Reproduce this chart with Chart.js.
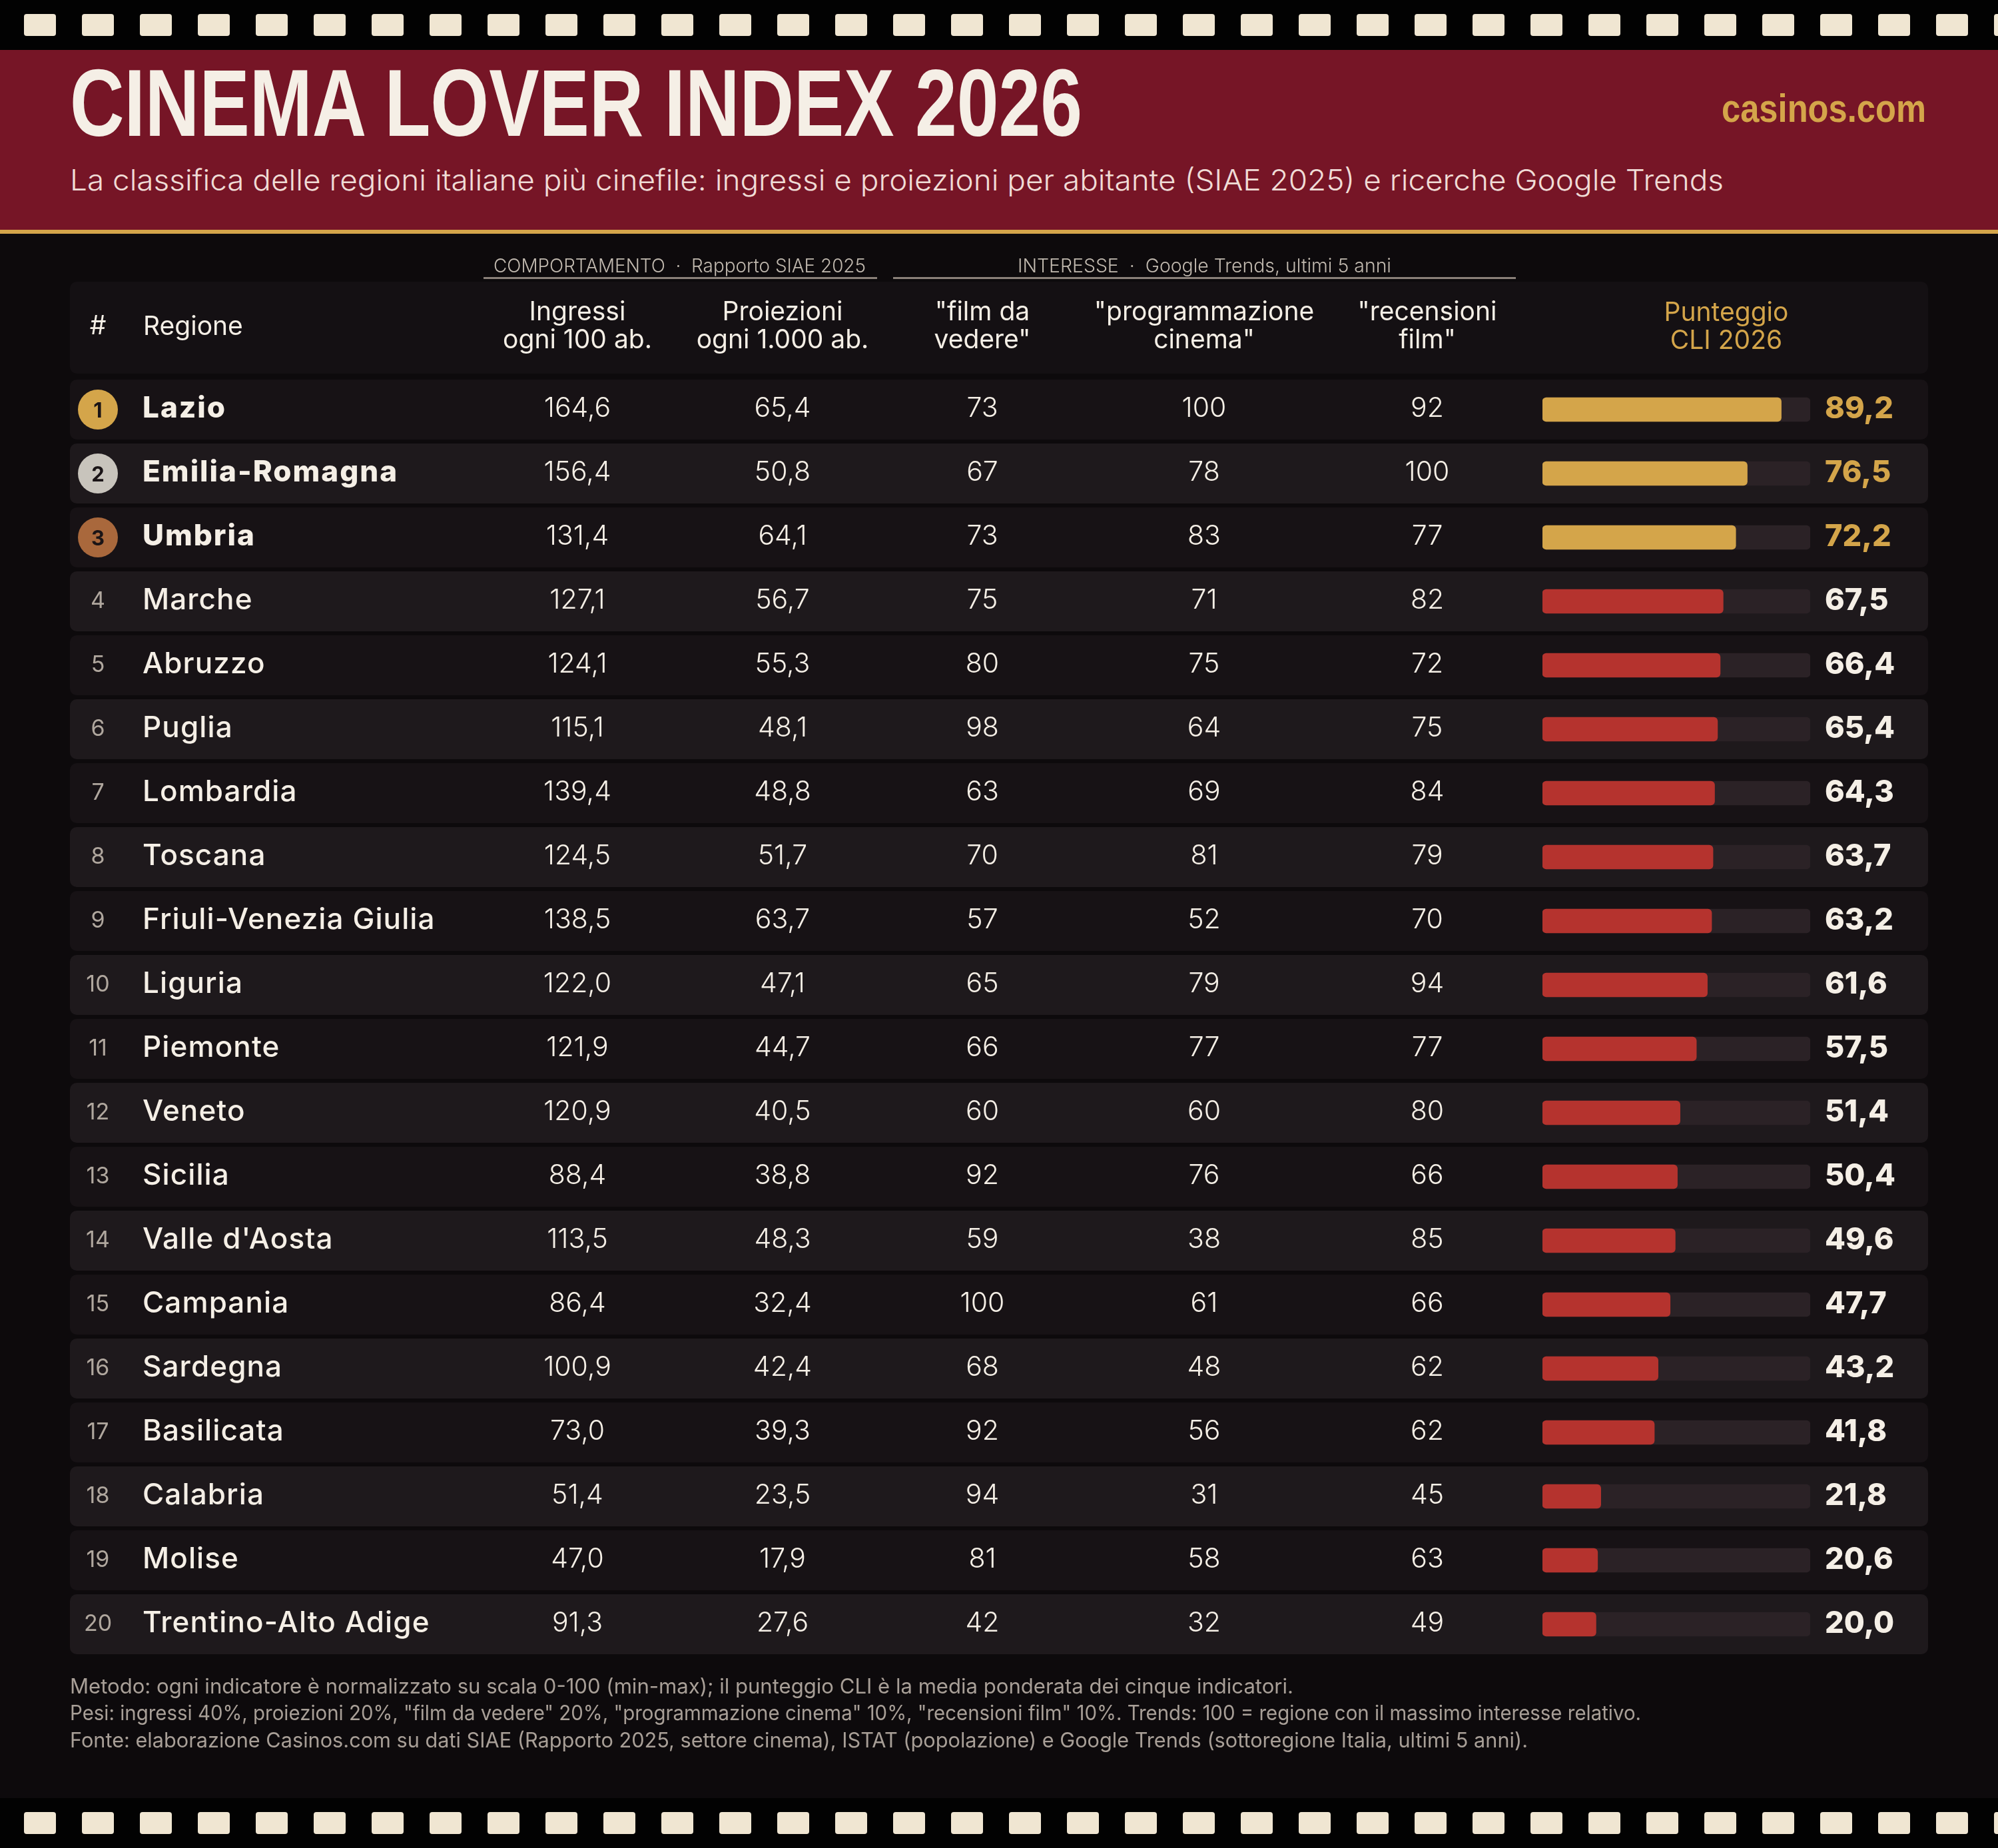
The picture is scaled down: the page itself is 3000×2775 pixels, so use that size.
<!DOCTYPE html>
<html lang="it">
<head>
  <meta charset="UTF-8" />
  <title>Cinema Lover Index 2026</title>
  <script src="https://cdn.jsdelivr.net/npm/chart.js"></script>
  <style>
    html, body { margin: 0; padding: 0; background: #0d0a0c; }
    #page { position: relative; width: 3000px; height: 2775px; overflow: hidden; background: #0d0a0c; font-family: 'Inter', 'Open Sans', sans-serif; color: #f5efe6; }
    #chart { position: absolute; left: 0; top: 0; }
    .strip { position: absolute; left: 0; width: 3000px; height: 75px; background: #020202; }
    .hole { position: absolute; width: 48px; height: 33px; background: #f0e6d2; border-radius: 4px; }
    .band { position: absolute; left: 0; top: 75px; width: 3000px; height: 270px; background: #761526; border-bottom: 6px solid #d4a54a; }
    .t { position: absolute; white-space: pre; line-height: 1; }
    .title { font-family: 'Liberation Sans Narrow', 'Liberation Sans', sans-serif; font-weight: 700; font-size: 142px; color: #f5efe6; }
    .brand { font-family: 'Liberation Sans Narrow', 'Liberation Sans', sans-serif; font-weight: 700; font-size: 60px; color: #d4a54a; }
    .sub { font-weight: 300; font-size: 44px; color: #f0dcd6; }
    .group { font-weight: 300; font-size: 29px; color: #c2bab0; }
    .rule { position: absolute; height: 3px; top: 416px; background: #8a8079; }
    .head { font-weight: 400; font-size: 39px; color: #f5efe6; }
    .rank { font-weight: 400; font-size: 34px; color: #b0a79e; }
    .medal { font-weight: 700; font-size: 31px; color: #1a1416; }
    .name { font-weight: 500; font-size: 44px; letter-spacing: 1.1px; color: #f5efe6; }
    .name.top { font-weight: 800; letter-spacing: 2px; }
    .val { font-weight: 300; font-size: 41px; color: #f5efe6; }
    .score { font-weight: 800; font-size: 45px; color: #f5efe6; }
    .foot { font-weight: 400; font-size: 31px; color: #a89f97; }
    .t.gold { color: #d4a54a; }
  </style>
</head>
<body>
  <div id="page">
    <canvas id="chart" width="3000" height="2775"></canvas>
    <div class="strip" style="top:0"></div>
    <div class="strip" style="top:2700px"></div>
    <div class="band"></div>
    <div class="rule" style="left:726px;width:591px"></div>
    <div class="rule" style="left:1341px;width:935px"></div>
  </div>

  <script>
    const regions = ['Lazio', 'Emilia-Romagna', 'Umbria', 'Marche', 'Abruzzo', 'Puglia', 'Lombardia', 'Toscana', 'Friuli-Venezia Giulia', 'Liguria', 'Piemonte', 'Veneto', 'Sicilia', "Valle d'Aosta", 'Campania', 'Sardegna', 'Basilicata', 'Calabria', 'Molise', 'Trentino-Alto Adige'];
    const ingressi = [164.6, 156.4, 131.4, 127.1, 124.1, 115.1, 139.4, 124.5, 138.5, 122.0, 121.9, 120.9, 88.4, 113.5, 86.4, 100.9, 73.0, 51.4, 47.0, 91.3];
    const proiezioni = [65.4, 50.8, 64.1, 56.7, 55.3, 48.1, 48.8, 51.7, 63.7, 47.1, 44.7, 40.5, 38.8, 48.3, 32.4, 42.4, 39.3, 23.5, 17.9, 27.6];
    const filmDaVedere = [73, 67, 73, 75, 80, 98, 63, 70, 57, 65, 66, 60, 92, 59, 100, 68, 92, 94, 81, 42];
    const programmazione = [100, 78, 83, 71, 75, 64, 69, 81, 52, 79, 77, 60, 76, 38, 61, 48, 56, 31, 58, 32];
    const recensioni = [92, 100, 77, 82, 72, 75, 84, 79, 70, 94, 77, 80, 66, 85, 66, 62, 62, 45, 63, 49];
    const punteggio = [89.2, 76.5, 72.2, 67.5, 66.4, 65.4, 64.3, 63.7, 63.2, 61.6, 57.5, 51.4, 50.4, 49.6, 47.7, 43.2, 41.8, 21.8, 20.6, 20.0];
    const scaleMax = [100];
    const footNotes = [
      'Metodo: ogni indicatore è normalizzato su scala 0-100 (min-max); il punteggio CLI è la media ponderata dei cinque indicatori.',
      'Pesi: ingressi 40%, proiezioni 20%, "film da vedere" 20%, "programmazione cinema" 10%, "recensioni film" 10%. Trends: 100 = regione con il massimo interesse relativo.',
      'Fonte: elaborazione Casinos.com su dati SIAE (Rapporto 2025, settore cinema), ISTAT (popolazione) e Google Trends (sottoregione Italia, ultimi 5 anni).'
    ];

    const GOLD = '#d4a54a', RED = '#b5332e', TRACK = '#2b2226';
    const medals = ['#d4a54a', '#c8c4bc', '#a9683c'];
    const page = document.getElementById('page');

    // absolutely placed text; align: l, c, r. width squeezes the text to a measured width
    function put(text, x, y, cls, align, width) {
      const el = document.createElement('div');
      el.className = 't ' + cls;
      el.textContent = text;
      page.appendChild(el);
      const w = el.getBoundingClientRect().width;
      const sx = width ? width / w : 1;
      const drawn = w * sx;
      const left = align === 'c' ? x - drawn / 2 : align === 'r' ? x - drawn : x;
      el.style.left = left + 'px';
      el.style.top = y + 'px';
      el.style.transformOrigin = '0 50%';
      el.style.transform = 'translateY(-50%) scaleX(' + sx + ')';
      return el;
    }

    // rows and header cell behind the bars
    const rowBands = {
      id: 'rowBands',
      beforeDatasetsDraw(chart) {
        const { ctx, scales: { y } } = chart;
        ctx.save();
        ctx.fillStyle = '#141013';
        ctx.beginPath(); ctx.roundRect(105, 423, 2790, 138, 10); ctx.fill();
        regions.forEach((r, i) => {
          const c = y.getPixelForValue(i);
          ctx.fillStyle = i % 2 ? '#1e191c' : '#171215';
          ctx.beginPath(); ctx.roundRect(105, c - 45, 2790, 90, 10); ctx.fill();
          if (i < 3) {
            ctx.fillStyle = medals[i];
            ctx.beginPath(); ctx.arc(147, c, 30, 0, Math.PI * 2); ctx.fill();
          }
        });
        ctx.restore();
      }
    };

    const chart = new Chart(document.getElementById('chart'), {
      type: 'bar',
      data: {
        labels: regions,
        datasets: [
          { label: 'Punteggio CLI 2026', data: punteggio, backgroundColor: punteggio.map((v, i) => i < 3 ? GOLD : RED), order: 1 },
          { label: 'Scala', data: regions.map(() => scaleMax[0]), backgroundColor: TRACK, order: 2 }
        ]
      },
      options: {
        indexAxis: 'y',
        responsive: false,
        animation: false,
        devicePixelRatio: 1,
        layout: { padding: { left: 2316, right: 282, top: 567, bottom: 288 } },
        datasets: { bar: { grouped: false, barThickness: 36, borderRadius: 6, borderSkipped: false } },
        scales: {
          x: { display: false, min: 0, max: scaleMax[0] },
          y: { display: false }
        },
        plugins: { legend: { display: false }, tooltip: { enabled: false } }
      },
      plugins: [rowBands]
    });

    const comma = v => v.toFixed(1).replace('.', ',');

    // header
    put('CINEMA LOVER INDEX 2026', 105, 155, 'title', 'l', 1520);
    put('casinos.com', 2892, 163, 'brand', 'r', 307);
    put('La classifica delle regioni italiane più cinefile: ingressi e proiezioni per abitante (SIAE 2025) e ricerche Google Trends', 105, 270, 'sub', 'l', 2483);

    // column headings
    put('COMPORTAMENTO  ·  Rapporto SIAE 2025', 1020, 398, 'group', 'c', 559);
    put('INTERESSE  ·  Google Trends, ultimi 5 anni', 1808, 398, 'group', 'c', 561);
    put('#', 147, 487, 'head', 'c');
    put('Regione', 215, 488, 'head', 'l');
    const headers = [[867, 'Ingressi', 'ogni 100 ab.'], [1175, 'Proiezioni', 'ogni 1.000 ab.'], [1475, '"film da', 'vedere"'], [1808, '"programmazione', 'cinema"'], [2143, '"recensioni', 'film"']];
    headers.forEach(h => {
      put(h[1], h[0], 466, 'head', 'c');
      put(h[2], h[0], 508, 'head', 'c');
    });
    put('Punteggio', 2592, 467, 'head gold', 'c');
    put('CLI 2026', 2592, 509, 'head gold', 'c');

    // table cells follow the chart's category scale
    regions.forEach((r, i) => {
      const c = chart.scales.y.getPixelForValue(i) - 4;
      put(String(i + 1), 147, i < 3 ? c + 4 : c + 2, i < 3 ? 'medal' : 'rank', 'c');
      put(r, 214, c, 'name' + (i < 3 ? ' top' : ''), 'l');
      put(comma(ingressi[i]), 867, c, 'val', 'c');
      put(comma(proiezioni[i]), 1175, c, 'val', 'c');
      put(String(filmDaVedere[i]), 1475, c, 'val', 'c');
      put(String(programmazione[i]), 1808, c, 'val', 'c');
      put(String(recensioni[i]), 2143, c, 'val', 'c');
      put(comma(punteggio[i]), 2740, c, 'score' + (i < 3 ? ' gold' : ''), 'l');
    });

    // footnotes
    put(footNotes[0], 105, 2531, 'foot', 'l', 1837);
    put(footNotes[1], 105, 2571, 'foot', 'l', 2359);
    put(footNotes[2], 105, 2612, 'foot', 'l', 2189);

    // film strip perforations
    document.querySelectorAll('.strip').forEach((s, k) => {
      for (let x = 36; x < 3000; x += 87) {
        const h = document.createElement('div');
        h.className = 'hole';
        h.style.left = x + 'px';
        h.style.top = '21px';
        s.appendChild(h);
      }
    });
  </script>
</body>
</html>
